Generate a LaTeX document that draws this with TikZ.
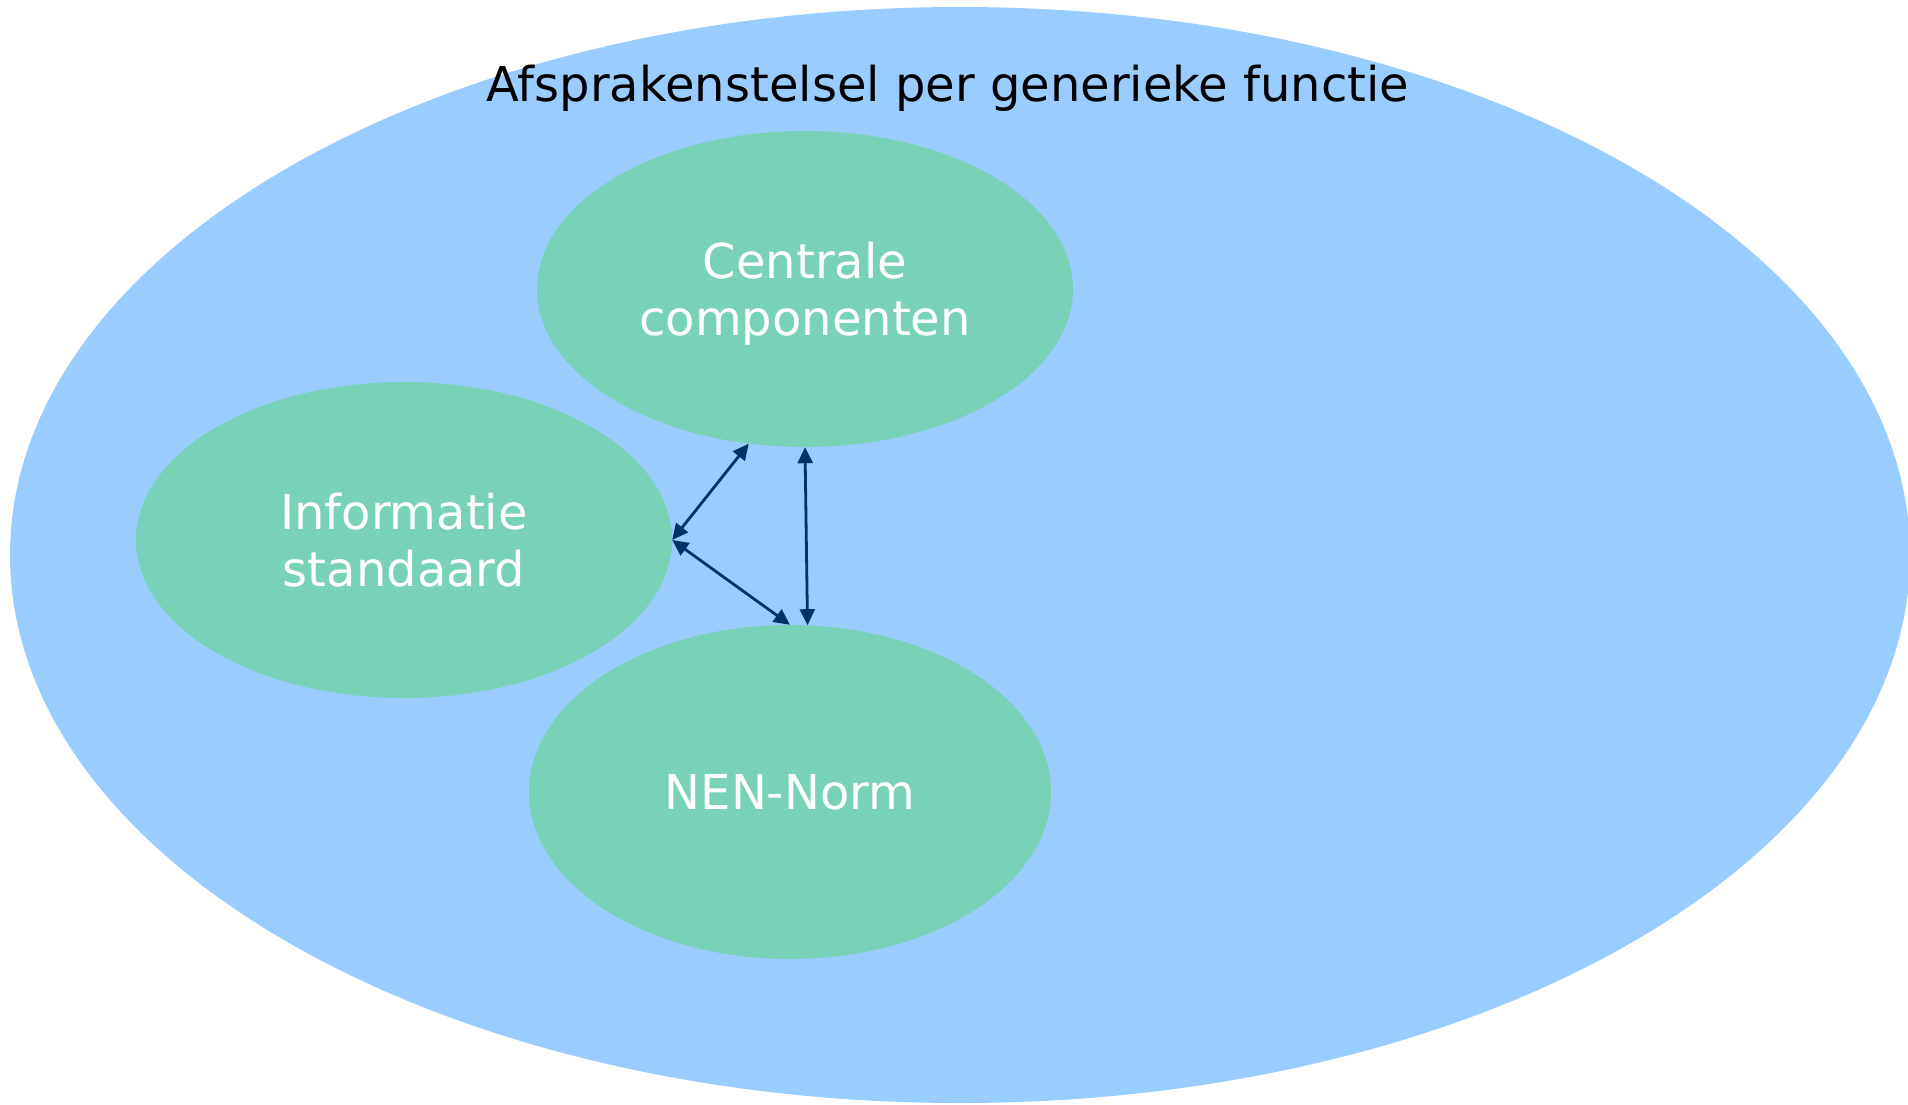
\documentclass[tikz,border=0pt]{standalone}
\usepackage{fontspec}
\setmainfont{DejaVu Sans}
\usetikzlibrary{shapes.geometric,arrows.meta}
\definecolor{outerblue}{RGB}{153,204,255}
\definecolor{innergreen}{RGB}{119,210,184}
\definecolor{arrownavy}{RGB}{0,51,102}
\tikzset{
  outerell/.style={ellipse, fill=outerblue, draw=none, inner sep=0pt,
    minimum width=1900pt, minimum height=1096pt},
  innerell/.style={ellipse, fill=innergreen, draw=none, inner sep=0pt,
    minimum width=536pt, minimum height=316pt, text=white, align=center,
    text depth=0pt, font=\fontsize{48}{57}\selectfont},
  titletext/.style={font=\fontsize{48}{57}\selectfont, text=black, inner sep=0pt},
  link/.style={draw=arrownavy, line width=2.8pt,
    {Triangle[length=16pt,width=15pt]}-{Triangle[length=16pt,width=15pt]}}
}
\begin{document}
\begin{tikzpicture}[x=1pt,y=-1pt]
\useasboundingbox (0,0) rectangle (1908,1104);
\clip (0,0) rectangle (1908,1104);
\node[outerell] (outer) at (960,555) {};
\node[titletext, anchor=base] (title) at (948,101.7) {Afsprakenstelsel per generieke functie};
\node[innerell] (cen) at (805,289) {Centrale\\componenten};
\node[innerell] (inf) at (404,540) {Informatie\\standaard};
\node[innerell, minimum width=522pt, minimum height=334pt] (nen) at (790,792) {NEN-Norm};
\draw[link] (cen.250) -- (inf.east);
\draw[link] (inf.east) -- (nen.90.5);
\draw[link] (cen.270) -- (nen.84);
\end{tikzpicture}
\end{document}
